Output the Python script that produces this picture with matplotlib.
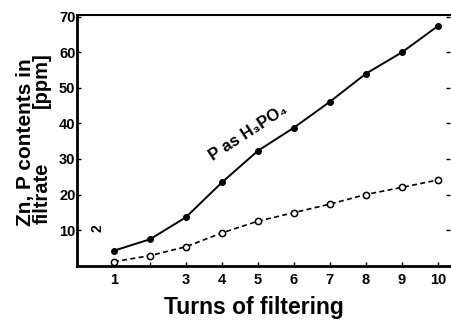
import matplotlib
matplotlib.use("Agg")
import matplotlib.pyplot as plt

plt.rcParams['font.family'] = ['Liberation Sans', 'DejaVu Sans']
plt.rcParams['font.weight'] = 'bold'

turns = [1, 2, 3, 4, 5, 6, 7, 8, 9, 10]
p_ppm = [4.2, 7.4, 13.6, 23.4, 32.3, 38.8, 46.1, 54.0, 60.0, 67.4]
zn_ppm = [1.1, 2.8, 5.3, 9.2, 12.5, 14.9, 17.3, 20.0, 22.0, 24.1]
x_labels = ['1', '', '3', '4', '5', '6', '7', '8', '9', '10']
y_ticks = [10, 20, 30, 40, 50, 60, 70]

fig = plt.figure(figsize=(4.52, 3.2), dpi=100)
ax = fig.add_axes([0.170, 0.170, 0.825, 0.783])

ax.plot(turns, p_ppm, color='black', lw=1.4, marker='o', ms=4)
ax.plot(turns, zn_ppm, color='black', lw=1.2, ls=(0, (3, 2)), marker='o', ms=4.5,
        mfc='white', mec='black', mew=1.1)

ax.set_xlim(-0.03, 10.33)
ax.set_ylim(0, 70.5)
ax.set_xticks(turns)
ax.set_xticklabels(x_labels)
ax.set_yticks(y_ticks)
ax.tick_params(direction='in', length=3, width=1, labelsize=10.5, pad=5)
ax.tick_params(axis='y', right=True, pad=1)
for lab in ax.get_xticklabels() + ax.get_yticklabels():
    lab.set_fontweight('bold')

ax.spines['left'].set_linewidth(2)
ax.spines['bottom'].set_linewidth(2)
ax.spines['top'].set_linewidth(1.5)
ax.spines['right'].set_visible(False)

ax.text(0.46, 0.53, 'P as H₃PO₄', rotation=33, fontsize=12, fontweight='bold',
        transform=ax.transAxes, ha='center', va='center')
ax.text(0.056, 0.15, '2', rotation=90, fontsize=10, fontweight='bold',
        transform=ax.transAxes, ha='center', va='center')

fig.text(0.562, 0.04, 'Turns of filtering', fontsize=16.5, fontweight='bold',
         ha='center', va='center')
# y label: two lines drawn separately, anchored on the baseline
fig.text(0.0675, 0.556, 'Zn, P contents in', rotation=90, fontsize=15,
         fontweight='bold', ha='center', va='baseline', rotation_mode='anchor')
fig.text(0.1045, 0.395, 'filtrate', rotation=90, fontsize=14.5,
         fontweight='bold', ha='center', va='baseline', rotation_mode='anchor')
fig.text(0.1045, 0.75, '[ppm]', rotation=90, fontsize=14.5,
         fontweight='bold', ha='center', va='baseline', rotation_mode='anchor')

fig.savefig('out.png', dpi=100)
